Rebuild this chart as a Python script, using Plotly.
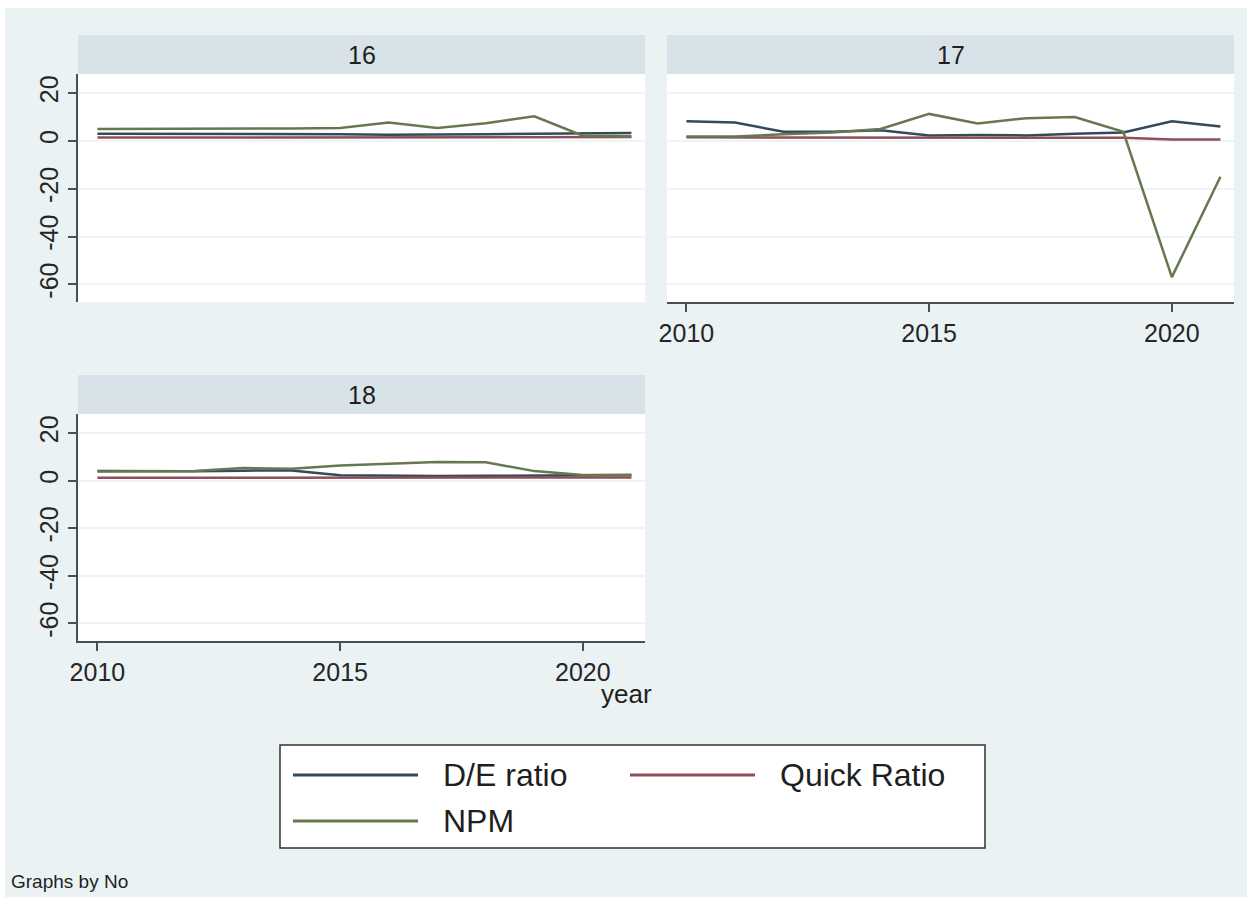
import plotly.graph_objects as go

# ---------------- data ----------------
years = [2010, 2011, 2012, 2013, 2014, 2015, 2016, 2017, 2018, 2019, 2020, 2021]
panels = ["16", "17", "18"]

de_16 = [3.0, 3.0, 3.0, 2.9, 2.9, 2.8, 2.6, 2.6, 2.8, 3.0, 3.2, 3.3]
qr_16 = [1.4, 1.4, 1.4, 1.4, 1.4, 1.4, 1.5, 1.5, 1.5, 1.5, 1.6, 1.6]
npm_16 = [5.0, 5.0, 5.1, 5.1, 5.2, 5.4, 7.7, 5.4, 7.4, 10.3, 2.2, 2.0]

de_17 = [8.2, 7.7, 3.8, 3.8, 4.5, 2.3, 2.5, 2.3, 3.0, 3.5, 8.2, 6.0]
qr_17 = [1.5, 1.5, 1.5, 1.5, 1.5, 1.4, 1.4, 1.3, 1.3, 1.3, 0.6, 0.6]
npm_17 = [1.8, 1.8, 2.8, 3.5, 5.0, 11.3, 7.3, 9.5, 10.0, 3.8, -57.0, -15.0]

de_18 = [4.0, 3.9, 3.9, 4.2, 4.3, 2.3, 2.0, 1.9, 2.0, 2.1, 2.2, 2.4]
qr_18 = [1.2, 1.2, 1.2, 1.2, 1.2, 1.2, 1.2, 1.2, 1.2, 1.3, 1.3, 1.3]
npm_18 = [3.8, 3.8, 4.0, 5.3, 5.0, 6.4, 7.1, 7.8, 7.7, 4.0, 2.4, 2.4]

series_names = ["D/E ratio", "Quick Ratio", "NPM"]
series_colors = ["#34495a", "#8e4f59", "#66784f"]

y_ticks = [-60, -40, -20, 0, 20]
y_tick_labels = ["-60", "-40", "-20", "0", "20"]
x_ticks = [2010, 2015, 2020]
x_tick_labels = ["2010", "2015", "2020"]

# ---------------- layout helpers ----------------
W, H = 1252, 899
FONT = "Liberation Sans, Arial, sans-serif"
BG = "#EAF2F3"
STRIP = "#D7E3E9"
AXIS = "#4a4f54"
GRID = "#EEF3F4"
TXT = "#1f1f1f"


def fx(x):
    return x / W


def fy(y):
    return 1 - y / H


data_by_panel = {
    "16": (de_16, qr_16, npm_16),
    "17": (de_17, qr_17, npm_17),
    "18": (de_18, qr_18, npm_18),
}

# panel boxes in px
cols = [(78, 645), (667, 1234)]
rows = [(35, 74, 302), (375, 414, 641)]
boxes = {
    "16": (cols[0], rows[0], 1),
    "17": (cols[1], rows[0], 2),
    "18": (cols[0], rows[1], 3),
}

fig = go.Figure()

for p in panels:
    (l, r), (st, pt, pb), k = boxes[p]
    sfx = "" if k == 1 else str(k)
    for vals, name, col in zip(data_by_panel[p], series_names, series_colors):
        fig.add_trace(go.Scatter(
            x=years, y=vals, mode="lines", name=name,
            line=dict(color=col, width=2.5),
            xaxis="x" + sfx, yaxis="y" + sfx, showlegend=False,
        ))

    show_x = p in ("17", "18")
    show_y = p in ("16", "18")
    fig.layout["xaxis" + sfx] = dict(
        domain=[fx(l), fx(r)], anchor="y" + sfx, range=[2009.6, 2021.28],
        showgrid=False, zeroline=False, automargin=False,
        showline=show_x, linecolor=AXIS, linewidth=2,
        ticks="outside" if show_x else "", ticklen=8, tickwidth=2, tickcolor=AXIS,
        tickvals=x_ticks, ticktext=x_tick_labels, showticklabels=show_x,
        tickfont=dict(family=FONT, size=25, color="#262626"),
        fixedrange=True,
    )
    fig.layout["yaxis" + sfx] = dict(
        domain=[fy(pb), fy(pt)], anchor="x" + sfx, range=[-67.4, 28.0],
        showgrid=True, gridcolor=GRID, gridwidth=1.5, zeroline=False, automargin=False,
        showline=show_y, linecolor=AXIS, linewidth=2,
        ticks="outside" if show_y else "", ticklen=8, tickwidth=2, tickcolor=AXIS,
        tickvals=y_ticks, ticktext=y_tick_labels, showticklabels=show_y, tickangle=-90,
        tickfont=dict(family=FONT, size=25, color="#262626"),
        fixedrange=True,
    )

shapes = []
annotations = []

# white frame around the grey graph region
for (x0, y0, x1, y1) in [(0, 0, W, 8), (0, 897, W, H), (0, 0, 5, H), (1247, 0, W, H)]:
    shapes.append(dict(type="rect", xref="paper", yref="paper",
                       x0=fx(x0), x1=fx(x1), y0=fy(y1), y1=fy(y0),
                       fillcolor="white", line=dict(width=0), layer="below"))

# strips with panel titles
for p in panels:
    (l, r), (st, pt, pb), k = boxes[p]
    shapes.append(dict(type="rect", xref="paper", yref="paper",
                       x0=fx(l), x1=fx(r), y0=fy(pt), y1=fy(st),
                       fillcolor=STRIP, line=dict(width=0), layer="below"))
    annotations.append(dict(text=p, xref="paper", yref="paper",
                            x=fx((l + r) / 2), y=fy((st + pt) / 2),
                            xanchor="center", yanchor="middle", showarrow=False,
                            font=dict(family=FONT, size=25, color=TXT)))

# x axis title
annotations.append(dict(text="year", xref="paper", yref="paper",
                        x=fx(626), y=fy(694), xanchor="center", yanchor="middle",
                        showarrow=False, font=dict(family=FONT, size=26, color=TXT)))

# legend box
shapes.append(dict(type="rect", xref="paper", yref="paper",
                   x0=fx(280), x1=fx(985), y0=fy(848), y1=fy(745),
                   fillcolor="white", line=dict(color="#333333", width=1.5)))
legend_pos = [(293, 418, 775, 441), (630, 755, 775, 778), (293, 418, 821, 441)]
for (x0, x1, yy, tx), name, col in zip(legend_pos, series_names, series_colors):
    shapes.append(dict(type="line", xref="paper", yref="paper",
                       x0=fx(x0), x1=fx(x1), y0=fy(yy), y1=fy(yy),
                       line=dict(color=col, width=3)))
    annotations.append(dict(text=name, xref="paper", yref="paper",
                            x=fx(tx), y=fy(yy), xanchor="left", yanchor="middle",
                            showarrow=False, font=dict(family=FONT, size=32, color=TXT)))

annotations.append(dict(text="Graphs by No", xref="paper", yref="paper",
                        x=fx(9), y=fy(881), xanchor="left", yanchor="middle",
                        showarrow=False, font=dict(family=FONT, size=19, color=TXT)))

fig.update_layout(
    width=W, height=H, margin=dict(l=0, r=0, t=0, b=0, autoexpand=False),
    paper_bgcolor=BG, plot_bgcolor="white",
    shapes=shapes, annotations=annotations, showlegend=False,
    font=dict(family=FONT),
)

fig.write_html("out.html", config={"displayModeBar": False})
